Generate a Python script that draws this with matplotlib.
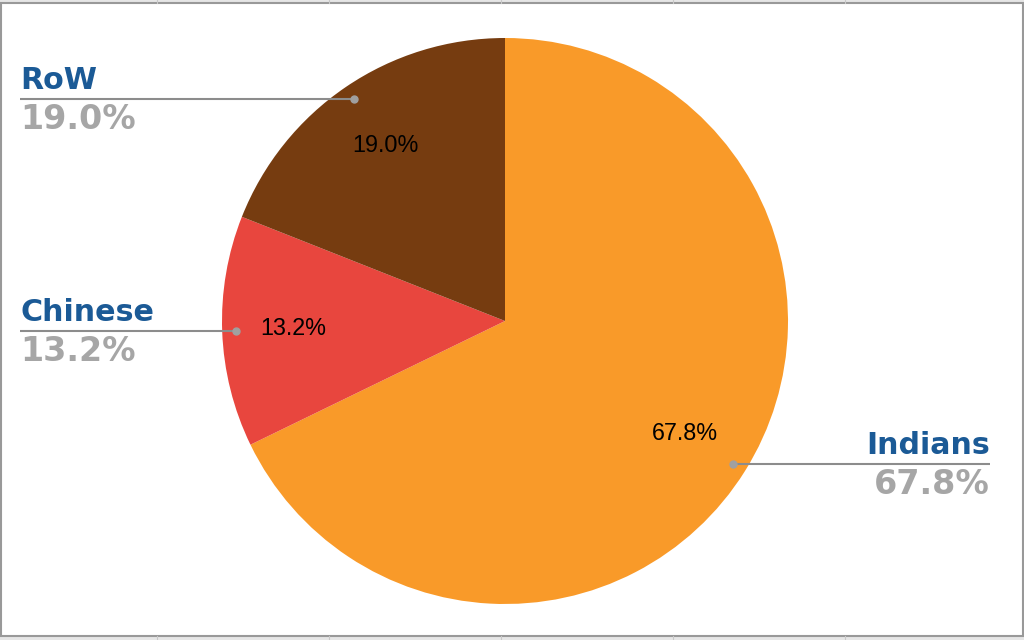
import matplotlib.pyplot as plt
import numpy as np

# data
labels = ['Indians', 'Chinese', 'RoW']
shares = [67.8, 13.2, 19.0]
colours = ['#F99A29', '#E8463E', '#763C10']

W, H = 1024, 640
fig = plt.figure(figsize=(W / 100, H / 100), dpi=100)
ax = fig.add_axes([0, 0, 1, 1])
ax.set_xlim(0, W)
ax.set_ylim(0, H)
ax.set_aspect('equal')
ax.axis('off')

# spreadsheet-like frame
ax.add_patch(plt.Rectangle((0, 0), W, 4, color='#E6E6E6', lw=0))
ax.add_patch(plt.Rectangle((0, H - 3), W, 3, color='#E6E6E6', lw=0))
for xt in [157, 329, 501, 673, 845]:
    ax.plot([xt, xt], [H - 3, H], color='#C8C8C8', lw=0.8)
    ax.plot([xt, xt], [0, 4], color='#C8C8C8', lw=0.8)
ax.add_patch(plt.Rectangle((1, 4), W - 2.5, H - 7, fill=False, ec='#999999', lw=1.5))

cx, cy, R = 505, H - 321, 283
wedges, texts, autotexts = ax.pie(shares, colors=colours, startangle=90, counterclock=False,
                                  center=(cx, cy), radius=R, autopct='%1.1f%%', pctdistance=0.75,
                                  textprops={'fontsize': 16.8, 'family': 'Liberation Sans', 'color': 'black'})
ax.set_xlim(0, W)
ax.set_ylim(0, H)

blue = '#1B5A96'
grey = '#A6A6A6'
# callouts: (text x, alignment)
call = {'Indians': (990, 'right'), 'Chinese': (20, 'left'), 'RoW': (20, 'left')}
for w, lab, val in zip(wedges, labels, shares):
    a = np.deg2rad((w.theta1 + w.theta2) / 2)
    px, py = cx + 0.95 * R * np.cos(a), cy + 0.95 * R * np.sin(a)
    tx, ha = call[lab]
    ax.plot([tx, px], [py, py], color='#8C8C8C', lw=1.5, solid_capstyle='butt')
    ax.plot(px, py, 'o', color='#A0A0A0', ms=5)
    ax.text(tx, py + 10, lab, ha=ha, va='baseline', fontsize=21.7, fontweight='bold',
            color=blue, family='DejaVu Sans')
    ax.text(tx, py - 4, f'{val:.1f}%', ha=ha, va='top', fontsize=24, fontweight='bold',
            color=grey, family='DejaVu Sans')

fig.savefig('out.png', dpi=100)
